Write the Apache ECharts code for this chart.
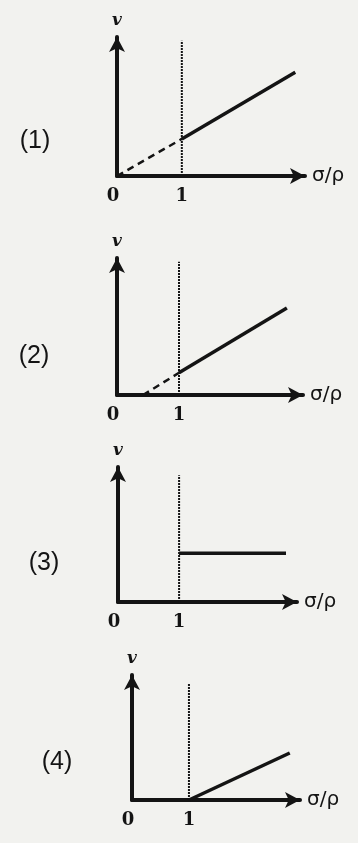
<!DOCTYPE html>
<html>
<head>
<meta charset="utf-8">
<script src="https://cdn.jsdelivr.net/npm/echarts@6/dist/echarts.min.js"></script>
<style>
  html, body { margin: 0; padding: 0; background: #f2f2ef; }
  #chart { width: 358px; height: 843px; }
</style>
</head>
<body>
<div id="chart"></div>
<script>
// four small v vs sigma/rho sketches
const panelLabels = ['(1)', '(2)', '(3)', '(4)'];
const xTickLabels = ['0', '1'];
const xName = 'σ/ρ';
const yName = 'v';

const xMax = [2.9, 3.0, 2.93, 2.95];
const yMax = [3.75, 3.7, 3.65, 3.38];
// dotted guide at sigma/rho = 1, height of each
const guideTop = [3.65, 3.6, 3.43, 3.16];

const solid1 = [[1, 1], [2.75, 2.8]];
const dashed1 = [[0, 0], [1, 1]];
const solid2 = [[1, 0.6], [2.74, 2.35]];
const dashed2 = [[0.42, 0], [1, 0.6]];
const solid3 = [[1, 1.32], [2.75, 1.32]];
const solid4 = [[1, 0], [2.77, 1.27]];

const solids = [solid1, solid2, solid3, solid4];
const dasheds = [dashed1, dashed2, null, null];

// grid boxes in px: left, top, width, height
const grids = [
    { left: 117, top: 37, width: 188, height: 139 },
    { left: 117, top: 258, width: 186, height: 137 },
    { left: 118, top: 467, width: 179, height: 135 },
    { left: 132, top: 675, width: 168, height: 125 }
];
const labelPos = [[35, 141], [34, 356], [44, 563], [57, 762]];

const ink = '#141414';

const chart = echarts.init(document.getElementById('chart'));

const xAxes = [], yAxes = [], series = [];
grids.forEach((g, i) => {
    xAxes.push({
        gridIndex: i,
        type: 'value',
        min: 0,
        max: xMax[i],
        interval: 1,
        name: xName,
        nameLocation: 'end',
        nameGap: 7,
        nameTextStyle: { color: ink, fontSize: 20, fontFamily: 'DejaVu Sans', verticalAlign: 'middle' },
        axisLine: {
            lineStyle: { color: ink, width: 4 },
            symbol: ['none', 'arrow'],
            symbolSize: [12, 15]
        },
        axisTick: { show: false },
        splitLine: { show: false },
        axisLabel: {
            color: ink,
            fontSize: 18,
            fontWeight: 'bold',
            fontFamily: 'DejaVu Serif',
            margin: 11,
            formatter: v => v === 0 ? '{z|' + xTickLabels[0] + '}' : (xTickLabels[v] || ''),
            rich: {
                z: { fontSize: 18, fontWeight: 'bold', fontFamily: 'DejaVu Serif', color: ink, padding: [0, 8, 0, 0] }
            }
        }
    });
    yAxes.push({
        gridIndex: i,
        type: 'value',
        min: 0,
        max: yMax[i],
        name: yName,
        nameLocation: 'end',
        nameGap: 8,
        nameTextStyle: { color: ink, fontSize: 17, fontStyle: 'italic', fontWeight: 'bold', fontFamily: 'DejaVu Serif' },
        axisLine: {
            lineStyle: { color: ink, width: 4 },
            symbol: ['none', 'arrow'],
            symbolSize: [12, 15]
        },
        axisTick: { show: false },
        splitLine: { show: false },
        axisLabel: { show: false }
    });

    series.push({
        type: 'line',
        xAxisIndex: i,
        yAxisIndex: i,
        data: [[1, 0], [1, guideTop[i]]],
        symbol: 'none',
        lineStyle: { color: ink, width: 2, type: [2, 1] },
        z: 1
    });
    series.push({
        type: 'line',
        xAxisIndex: i,
        yAxisIndex: i,
        data: solids[i],
        symbol: 'none',
        lineStyle: { color: ink, width: 3.5 },
        z: 3
    });
    if (dasheds[i]) {
        series.push({
            type: 'line',
            xAxisIndex: i,
            yAxisIndex: i,
            data: dasheds[i],
            symbol: 'none',
            lineStyle: { color: ink, width: 2.5, type: [7, 5] },
            z: 2
        });
    }
});

chart.setOption({
    backgroundColor: '#f2f2ef',
    animation: false,
    grid: grids,
    xAxis: xAxes,
    yAxis: yAxes,
    series: series,
    graphic: panelLabels.map((t, i) => ({
        type: 'text',
        x: labelPos[i][0],
        y: labelPos[i][1],
        style: {
            text: t,
            fill: ink,
            font: '25px "Liberation Sans"',
            align: 'center',
            verticalAlign: 'middle'
        }
    }))
});
</script>
</body>
</html>
